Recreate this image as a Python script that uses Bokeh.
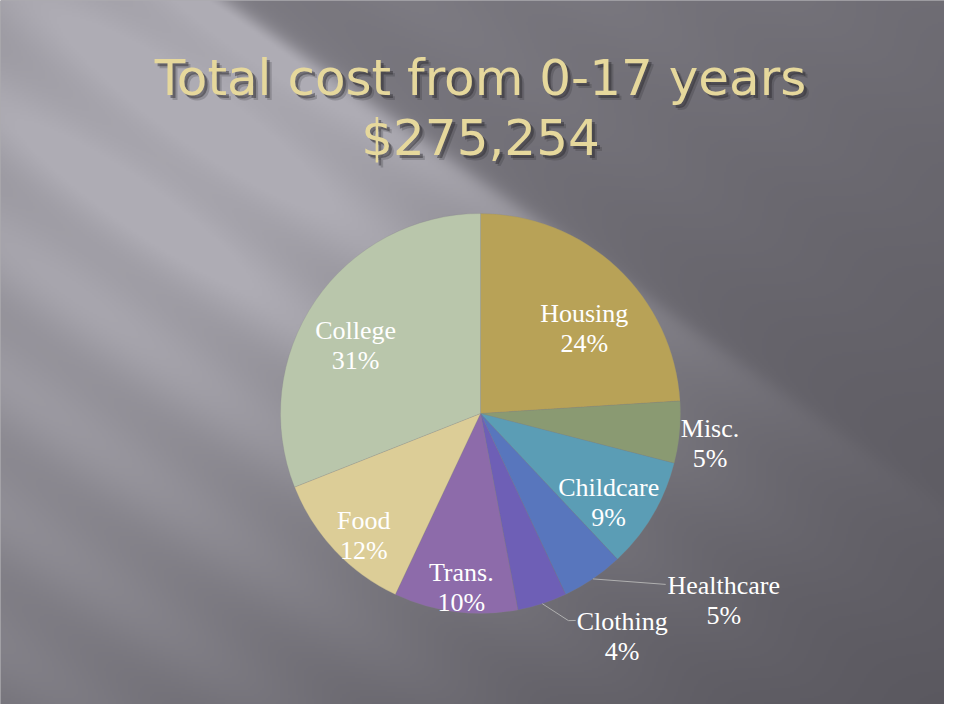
import numpy as np
from bokeh.plotting import figure
from bokeh.core.properties import value
from bokeh.embed import file_html
from bokeh.resources import INLINE

# ---- data ----
categories = ["Housing", "Misc.", "Childcare", "Healthcare", "Clothing", "Trans.", "Food", "College"]
shares = [24, 5, 9, 5, 4, 10, 12, 31]
title_line1 = "Total cost from 0-17 years"
title_line2 = "$275,254"

# ---- styles / layout ----
slice_colors = ["#B8A257", "#8A9A72", "#5B9DB5", "#5876BD", "#6E5FB6", "#8D6BAA", "#DCCD97", "#B9C6AB"]
# label anchor (baseline of first line) in polar form: degrees clockwise from top, fraction of radius
label_angle = [46.1, 93.7, 120.0, 125.3, 145.8, 186.9, 227.6, 303.6]
label_rfrac = [0.72, 1.15, 0.74, 1.49, 1.26, 0.80, 0.79, 0.75]
# leader lines (polar points) for labels placed outside
leaders = {
    "Healthcare": [(145.8, 1.0), (132.7, 1.26)],
    "Clothing": [(162.0, 1.0), (157.0, 1.125), (155.3, 1.139)],
}

W, H = 944, 704
CX, CY, R = 480, 291, 200

p = figure(width=W, height=H, x_range=(0, W), y_range=(0, H),
           output_backend="svg", toolbar_location=None,
           x_axis_location=None, y_axis_location=None, min_border=0)
p.grid.visible = False
p.outline_line_color = None
p.background_fill_color = "#5a5960"
p.border_fill_color = "#5a5960"

# ---- background: dark gray with soft diagonal light streaks ----
step = 2
cols, rows = W // step, H // step
X, Y = np.meshgrid(np.arange(cols) * step + 1, np.arange(rows) * step + 1)
s = -0.574 * X + 0.819 * Y
t = 0.819 * X + 0.574 * Y
base = 0.2 * (1 - Y / 720.0)
edge = 1.0 / (1.0 + np.exp(-(s + 128) / 5.0))
fade_t = np.exp(-((t - 250) / 500.0) ** 2)
decay_s = np.exp(-np.maximum(s - 100, 0) / 700.0)
streak = 1 + 0.10 * np.cos(2 * np.pi * (s + 128) / 110.0)
L = np.clip(base + 0.85 * fade_t * (0.25 + 0.75 * edge) * decay_s * streak, 0, 1)
dark = np.array([88, 86, 93])
light = np.array([174, 172, 180])
rgb = dark[None, None, :] + L[:, :, None] * (light - dark)[None, None, :]
img = np.zeros((rows, cols), dtype=np.uint32)
view = img.view(dtype=np.uint8).reshape((rows, cols, 4))
view[:, :, 0] = rgb[:, :, 0].astype(np.uint8)
view[:, :, 1] = rgb[:, :, 1].astype(np.uint8)
view[:, :, 2] = rgb[:, :, 2].astype(np.uint8)
view[:, :, 3] = 255
img = np.flipud(img)
p.image_rgba(image=[img], x=0, y=0, dw=W, dh=H)

# ---- title with drop shadow ----
title_font = value("DejaVu Sans")
TX, TY1, TY2 = 480, 627, 567
for dx, dy, a in [(5, -5, 0.22), (3, -3, 0.45)]:
    p.text(x=[TX + dx, TX + dx], y=[TY1 + dy, TY2 + dy], text=[title_line1, title_line2],
           text_font=title_font, text_font_size=value("50px"), text_align="center",
           text_baseline="alphabetic", text_color="#2a282c", text_alpha=a)
p.text(x=[TX, TX], y=[TY1, TY2], text=[title_line1, title_line2],
       text_font=title_font, text_font_size=value("50px"), text_align="center",
       text_baseline="alphabetic", text_color="#E6D89C")

# ---- pie ----
total = float(sum(shares))
frac = np.array(shares) / total
cum_end = np.cumsum(frac)
cum_start = cum_end - frac
start_angle = np.pi / 2 - 2 * np.pi * cum_start
end_angle = np.pi / 2 - 2 * np.pi * cum_end
p.wedge(x=CX, y=CY, radius=R, start_angle=start_angle, end_angle=end_angle,
        direction="clock", fill_color=slice_colors, line_color="#808080",
        line_alpha=0.35, line_width=0.6)

def polar(ang_deg, rf):
    a = np.radians(ang_deg)
    return CX + rf * R * np.sin(a), CY + rf * R * np.cos(a)

# leader lines
for name, pts in leaders.items():
    xs, ys = zip(*[polar(a, r) for a, r in pts])
    p.line(x=list(xs), y=list(ys), line_color="#b0b0b0", line_width=1)

# labels
lx, ly = polar(np.array(label_angle), np.array(label_rfrac))
pct = ["%d%%" % v for v in shares]
label_font = value("Liberation Serif")
p.text(x=lx, y=ly, text=categories, text_font=label_font, text_font_size=value("26px"),
       text_align="center", text_baseline="alphabetic", text_color="#FFFFFF")
p.text(x=lx, y=ly - 30, text=pct, text_font=label_font, text_font_size=value("26px"),
       text_align="center", text_baseline="alphabetic", text_color="#FFFFFF")

open("out.html", "w").write(file_html(p, INLINE))
